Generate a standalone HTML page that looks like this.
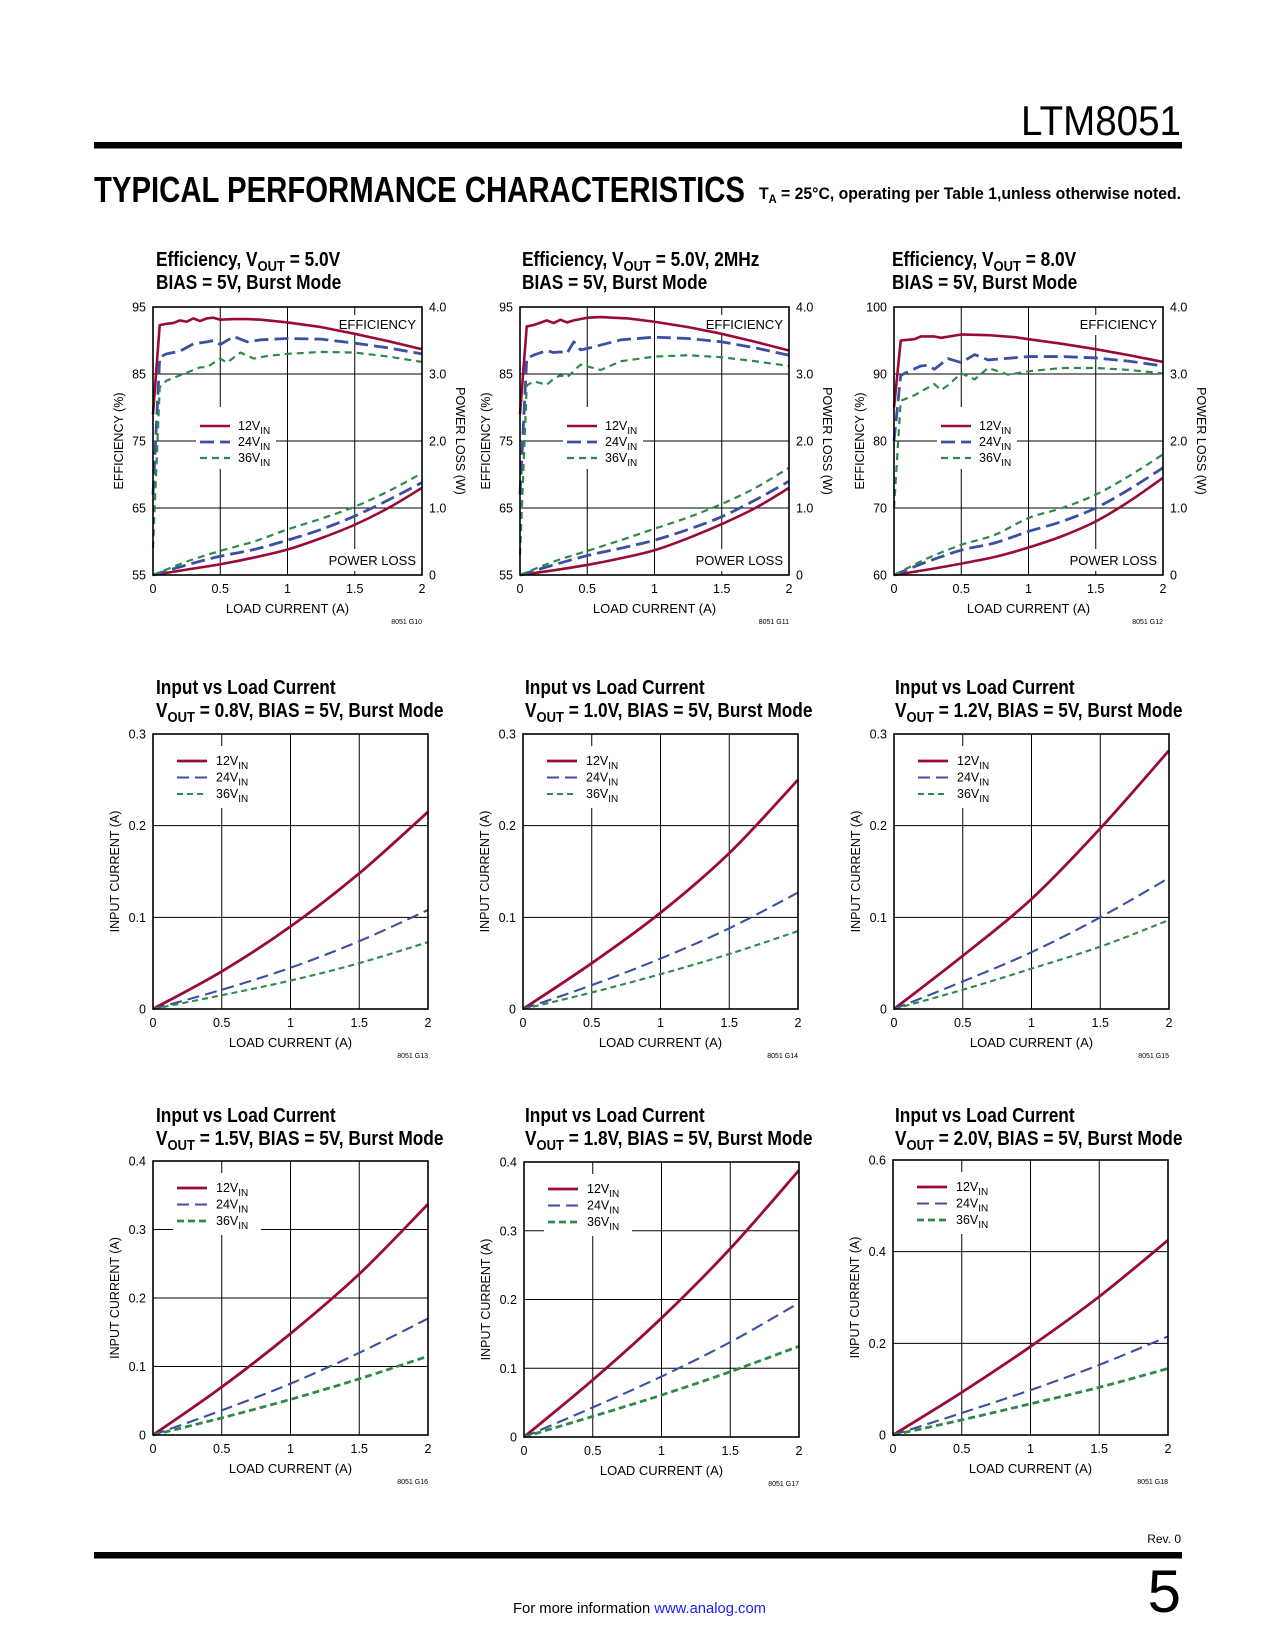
<!DOCTYPE html>
<html><head><meta charset="utf-8"><title>LTM8051 Typical Performance Characteristics</title>
<style>
html,body{margin:0;padding:0;background:#fff;}
svg{display:block;font-family:"Liberation Sans",sans-serif;}
</style></head>
<body>
<svg id="page" width="1275" height="1650" viewBox="0 0 1275 1650" xmlns="http://www.w3.org/2000/svg">
<rect width="1275" height="1650" fill="#fff"/>
<text x="1181" y="135" text-anchor="end" font-size="42" textLength="160" lengthAdjust="spacingAndGlyphs">LTM8051</text>
<rect x="94" y="142" width="1088" height="6.5" fill="#000"/>
<text x="94" y="202" font-size="36" font-weight="bold" textLength="651" lengthAdjust="spacingAndGlyphs">TYPICAL PERFORMANCE CHARACTERISTICS</text>
<text x="759" y="199" font-size="17" font-weight="bold" textLength="422" lengthAdjust="spacingAndGlyphs">T<tspan font-size="12" dy="4">A</tspan><tspan dy="-4"> = 25°C, operating per Table 1,unless otherwise noted.</tspan></text>
<text x="1181" y="1543" text-anchor="end" font-size="12">Rev. 0</text>
<rect x="94" y="1552" width="1088" height="6.5" fill="#000"/>
<text x="1181" y="1612" text-anchor="end" font-size="60">5</text>
<text x="513" y="1613" font-size="15" textLength="253" lengthAdjust="spacingAndGlyphs">For more information <tspan fill="#1a1aff">www.analog.com</tspan></text>
<g id="charts"></g>
</svg>
<script>
// ---------- data ----------
const loadTicks = [0, 0.5, 1, 1.5, 2];
const loadTickLabels = ["0", "0.5", "1", "1.5", "2"];
const lossX = [0, 0.25, 0.5, 0.75, 1, 1.25, 1.5, 1.75, 2];
const lossTicks = ["0", "1.0", "2.0", "3.0", "4.0"];

// Chart G10
const g10x12 = [0,0.05,0.1,0.15,0.2,0.25,0.3,0.35,0.4,0.45,0.5,0.6,0.7,0.8,1,1.25,1.5,1.75,2];
const g10e12 = [79,92.3,92.5,92.6,93,92.8,93.3,92.9,93.3,93.4,93.1,93.2,93.2,93.1,92.7,92,91,89.9,88.7];
const g10x24 = [0,0.05,0.1,0.2,0.3,0.4,0.45,0.5,0.6,0.7,0.8,1,1.25,1.5,1.75,2];
const g10e24 = [67,87.5,88,88.4,89.5,89.8,90,89.4,90.6,89.8,90.1,90.3,90.2,89.6,88.9,88];
const g10x36 = [0,0.05,0.1,0.2,0.3,0.35,0.4,0.5,0.55,0.65,0.75,0.85,1,1.25,1.5,1.75,2];
const g10e36 = [59,83,84,84.8,85.6,86,86,87.3,86.7,88.2,87.3,87.7,88,88.3,88.2,87.6,86.8];
const g10p12 = [0,0.08,0.16,0.26,0.38,0.55,0.75,1.0,1.3];
const g10p24 = [0,0.15,0.28,0.38,0.52,0.68,0.88,1.12,1.38];
const g10p36 = [0,0.2,0.36,0.5,0.68,0.84,1.02,1.25,1.52];
const g10yTicks = [55, 65, 75, 85, 95];

// Chart G11
const g11x12 = [0,0.05,0.1,0.2,0.25,0.3,0.35,0.4,0.5,0.6,0.8,1,1.25,1.5,1.75,2];
const g11e12 = [79,92.1,92.3,93,92.6,93.1,92.7,93,93.4,93.5,93.3,92.8,92,91,89.8,88.5];
const g11x24 = [0,0.05,0.1,0.2,0.25,0.3,0.35,0.4,0.45,0.5,0.75,1,1.25,1.5,1.75,2];
const g11e24 = [67,87.3,87.8,88.5,88.2,88.3,88.1,89.8,88.6,88.8,90.1,90.5,90.3,89.8,88.9,87.8];
const g11x36 = [0,0.05,0.1,0.2,0.25,0.3,0.35,0.45,0.6,0.75,1,1.25,1.5,1.75,2];
const g11e36 = [58,83.3,83.9,83.4,84.3,84.8,84.5,86.4,85.6,86.9,87.6,87.8,87.5,86.9,86.2];
const g11p12 = [0,0.07,0.15,0.25,0.37,0.55,0.76,1.0,1.3];
const g11p24 = [0,0.15,0.29,0.4,0.52,0.68,0.87,1.12,1.4];
const g11p36 = [0,0.2,0.36,0.52,0.69,0.86,1.06,1.3,1.6];
const g11yTicks = [55, 65, 75, 85, 95];

// Chart G12
const g12x12 = [0,0.05,0.1,0.15,0.2,0.3,0.35,0.5,0.7,0.9,1,1.25,1.5,1.75,2];
const g12e12 = [85,95,95.1,95.2,95.6,95.6,95.4,95.9,95.8,95.5,95.2,94.5,93.7,92.8,91.8];
const g12x24 = [0,0.05,0.1,0.2,0.25,0.3,0.4,0.5,0.6,0.7,1,1.25,1.5,1.75,2];
const g12e24 = [80,89.8,90.3,91.2,91.3,90.7,92.3,91.7,92.9,92.1,92.6,92.6,92.4,91.9,91.2];
const g12x36 = [0,0.05,0.15,0.3,0.35,0.4,0.5,0.6,0.7,0.85,1,1.25,1.5,1.75,2];
const g12e36 = [70,86,86.8,88.5,87.6,88.3,90.1,89.2,90.9,89.9,90.4,90.9,90.9,90.6,90.1];
const g12p12 = [0,0.08,0.17,0.27,0.41,0.58,0.8,1.1,1.45];
const g12p24 = [0,0.2,0.37,0.48,0.65,0.8,1.0,1.28,1.6];
const g12p36 = [0,0.25,0.45,0.6,0.85,1.0,1.2,1.48,1.8];
const g12yTicks = [60, 70, 80, 90, 100];

// Input current charts
const icX = [0, 0.5, 1, 1.5, 2];
const g13i12 = [0,0.041,0.09,0.148,0.215];
const g13i24 = [0,0.021,0.045,0.074,0.108];
const g13i36 = [0,0.015,0.031,0.05,0.073];
const g14i12 = [0,0.05,0.105,0.17,0.25];
const g14i24 = [0,0.026,0.055,0.088,0.127];
const g14i36 = [0,0.018,0.038,0.06,0.085];
const g15i12 = [0,0.058,0.12,0.197,0.282];
const g15i24 = [0,0.03,0.062,0.1,0.143];
const g15i36 = [0,0.021,0.044,0.068,0.097];
const g16i12 = [0,0.07,0.148,0.235,0.337];
const g16i24 = [0,0.036,0.075,0.12,0.17];
const g16i36 = [0,0.025,0.052,0.082,0.115];
const g17i12 = [0,0.083,0.173,0.274,0.388];
const g17i24 = [0,0.043,0.088,0.138,0.195];
const g17i36 = [0,0.03,0.061,0.095,0.132];
const g18i12 = [0,0.093,0.193,0.302,0.425];
const g18i24 = [0,0.048,0.098,0.153,0.215];
const g18i36 = [0,0.033,0.068,0.104,0.145];
const ic03Ticks = ["0","0.1","0.2","0.3"];
const ic04Ticks = ["0","0.1","0.2","0.3","0.4"];
const ic06Ticks = ["0","0.2","0.4","0.6"];

// ---------- drawing ----------
const NS = "http://www.w3.org/2000/svg";
const root = document.getElementById("charts");
const C12 = "#9a0a36", C24 = "#3b4fa3", C36 = "#2f8a4a";
function mk(tag, attrs, parent) {
  const el = document.createElementNS(NS, tag);
  for (const k in attrs) el.setAttribute(k, attrs[k]);
  (parent || root).appendChild(el);
  return el;
}
function scaler(d0, d1, p0, p1) { return v => p0 + (v - d0) / (d1 - d0) * (p1 - p0); }
function pathFrom(xs, ys, sx, sy) {
  return xs.map((x, i) => (i ? "L" : "M") + sx(x).toFixed(2) + "," + sy(ys[i]).toFixed(2)).join(" ");
}
function smoothFrom(xs, ys, sx, sy) {
  const P = xs.map((x, i) => [sx(x), sy(ys[i])]);
  let d = "M" + P[0][0].toFixed(2) + "," + P[0][1].toFixed(2);
  for (let i = 0; i < P.length - 1; i++) {
    const p0 = P[i - 1] || P[i], p1 = P[i], p2 = P[i + 1], p3 = P[i + 2] || P[i + 1];
    const c1 = [p1[0] + (p2[0] - p0[0]) / 6, p1[1] + (p2[1] - p0[1]) / 6];
    const c2 = [p2[0] - (p3[0] - p1[0]) / 6, p2[1] - (p3[1] - p1[1]) / 6];
    d += ` C${c1[0].toFixed(2)},${c1[1].toFixed(2)} ${c2[0].toFixed(2)},${c2[1].toFixed(2)} ${p2[0].toFixed(2)},${p2[1].toFixed(2)}`;
  }
  return d;
}
function vinLabel(g, x, y, num) {
  const t = mk("text", {x: x, y: y, "font-size": 12.5}, g);
  
  
  t.innerHTML = num + 'V<tspan font-size="10" dy="4">IN</tspan>';
}
function title2(g, x, y1, l1, l2) {
  const a = mk("text", {transform: `translate(${x},${y1}) scale(0.865,1)`, "font-size": 20, "font-weight": "bold"}, g);
  
  
  a.innerHTML = l1;
  const b = mk("text", {transform: `translate(${x},${y1 + 23}) scale(0.865,1)`, "font-size": 20, "font-weight": "bold"}, g);
  
  
  b.innerHTML = l2;
}
const VOUT = 'V<tspan font-size="15" dy="5">OUT</tspan><tspan dy="-5">';

function frame(g, L, R, T, B, yTickVals, yTickLabels, y0, y1) {
  const sx = scaler(0, 2, L, R), sy = scaler(y0, y1, B, T);
  loadTicks.forEach((v, i) => {
    if (i > 0 && i < loadTicks.length - 1) {
      const gl = mk("line", {x1: sx(v), x2: sx(v), y1: T, y2: B, stroke: "#000", "stroke-width": 1}, g);
      
      
    }
    const tl = mk("text", {x: sx(v), y: B + 18, "font-size": 12.5, "text-anchor": "middle"}, g);
    
    
    tl.textContent = loadTickLabels[i];
  });
  yTickVals.forEach((v, i) => {
    if (i > 0 && i < yTickVals.length - 1) {
      const gl = mk("line", {x1: L, x2: R, y1: sy(v), y2: sy(v), stroke: "#000", "stroke-width": 1}, g);
      
      
    }
    const tl = mk("text", {x: L - 7, y: sy(v) + 4.5, "font-size": 12.5, "text-anchor": "end"}, g);
    
    
    tl.textContent = yTickLabels[i];
  });
  const xt = mk("text", {x: (L + R) / 2, y: B + 38, "font-size": 13, "text-anchor": "middle"}, g);
  
  
  xt.textContent = "LOAD CURRENT (A)";
  return {sx, sy};
}
function border(g, L, R, T, B) {
  const r = mk("rect", {x: L, y: T, width: R - L, height: B - T, fill: "none", stroke: "#000", "stroke-width": 1.6}, g);
  
  
}
function code(g, R, B, txt) {
  const c = mk("text", {x: R, y: B + 49, "font-size": 7, "text-anchor": "end"}, g);
  
  
  c.textContent = txt;
}

function effChart(cfg) {
  const {L, R, T, B, tx, l1, l2, yTicks, codeTxt, d} = cfg;
  const g = mk("g", {});
  
  
  title2(g, tx, 266, l1, l2);
  const {sx, sy} = frame(g, L, R, T, B, yTicks, yTicks.map(String), yTicks[0], yTicks[yTicks.length - 1]);
  const sp = scaler(0, 4, B, T);
  lossTicks.forEach((lab, i) => {
    const t = mk("text", {x: R + 7, y: sp(i) + 4.5, "font-size": 12.5}, g);
    
    
    t.textContent = lab;
  });
  const yt = mk("text", {transform: `translate(${L - 30},${(T + B) / 2}) rotate(-90)`, "font-size": 12.5, "text-anchor": "middle"}, g);
  
  
  yt.textContent = "EFFICIENCY (%)";
  const rt = mk("text", {transform: `translate(${R + 34},${(T + B) / 2}) rotate(90)`, "font-size": 12.5, "text-anchor": "middle"}, g);
  
  
  rt.textContent = "POWER LOSS (W)";
  const lb = mk("rect", {x: L + 43, y: T + 100, width: 80, height: 62, fill: "#fff"}, g);
  
  
  const eb = mk("rect", {x: R - 80, y: T + 8, width: 76, height: 20, fill: "#fff"}, g);
  
  
  const pb = mk("rect", {x: R - 88, y: B - 26, width: 84, height: 22, fill: "#fff"}, g);
  
  
  const el = mk("text", {x: R - 6, y: T + 22, "font-size": 13, "text-anchor": "end"}, g);
  
  
  el.textContent = "EFFICIENCY";
  const pl = mk("text", {x: R - 6, y: B - 10, "font-size": 13, "text-anchor": "end"}, g);
  
  
  pl.textContent = "POWER LOSS";
  const styles = [[C12, "", 2.6], [C24, "14,6", 2.8], [C36, "7,5", 2.2]];
  const effs = [[d.x12, d.e12], [d.x24, d.e24], [d.x36, d.e36]];
  const losses = [d.p12, d.p24, d.p36];
  const names = ["12vin", "24vin", "36vin"];
  styles.forEach((s, i) => {
    const e = mk("path", {d: pathFrom(effs[i][0], effs[i][1], sx, sy), fill: "none", stroke: s[0], "stroke-width": s[2], "stroke-dasharray": s[1], "stroke-linejoin": "round"}, g);
    
    
    const p = mk("path", {d: smoothFrom(lossX, losses[i], sx, sp), fill: "none", stroke: s[0], "stroke-width": s[2], "stroke-dasharray": s[1], "stroke-linejoin": "round"}, g);
    
    
    const ly = T + 119 + i * 16;
    const ll = mk("line", {x1: L + 47, x2: L + 77, y1: ly, y2: ly, stroke: s[0], "stroke-width": s[2], "stroke-dasharray": s[1]}, g);
    
    
    vinLabel(g, L + 85, ly + 4, ["12", "24", "36"][i]);
  });
  border(g, L, R, T, B);
  code(g, R, B, codeTxt);
}

function icChart(cfg) {
  const {L, R, T, B, tx, ty, vo, ymax, yLabels, codeTxt, s12, s24, s36, thick36} = cfg;
  const g = mk("g", {});
  
  
  title2(g, tx, ty, "Input vs Load Current", VOUT + " = " + vo + ", BIAS = 5V, Burst Mode</tspan>");
  const vals = yLabels.map(Number);
  const {sx, sy} = frame(g, L, R, T, B, vals, yLabels, 0, ymax);
  const yt = mk("text", {transform: `translate(${L - 34},${(T + B) / 2}) rotate(-90)`, "font-size": 12.5, "text-anchor": "middle"}, g);
  
  
  yt.textContent = "INPUT CURRENT (A)";
  const lb = mk("rect", {x: L + 20, y: T + 12, width: 88, height: 62, fill: "#fff"}, g);
  
  
  const styles = [[C12, "", 2.8], [C24, "12,6", 2.1], [C36, thick36 ? "7,4" : "6,4", thick36 ? 2.8 : 2.1]];
  const series = [s12, s24, s36];
  const names = ["12vin", "24vin", "36vin"];
  styles.forEach((s, i) => {
    const p = mk("path", {d: smoothFrom(icX, series[i], sx, sy), fill: "none", stroke: s[0], "stroke-width": s[2], "stroke-dasharray": s[1]}, g);
    
    
    const ly = T + 27 + i * 16.5;
    const ll = mk("line", {x1: L + 24, x2: L + 54, y1: ly, y2: ly, stroke: s[0], "stroke-width": s[2], "stroke-dasharray": s[1]}, g);
    
    
    vinLabel(g, L + 63, ly + 4, ["12", "24", "36"][i]);
  });
  border(g, L, R, T, B);
  code(g, R, B, codeTxt);
}

effChart({L:153, R:422, T:307, B:575, tx:156, l1:"Efficiency, " + VOUT + " = 5.0V</tspan>", l2:"BIAS = 5V, Burst Mode", yTicks:g10yTicks, codeTxt:"8051 G10",
  d:{x12:g10x12, e12:g10e12, x24:g10x24, e24:g10e24, x36:g10x36, e36:g10e36, p12:g10p12, p24:g10p24, p36:g10p36}});
effChart({L:520, R:789, T:307, B:575, tx:522, l1:"Efficiency, " + VOUT + " = 5.0V, 2MHz</tspan>", l2:"BIAS = 5V, Burst Mode", yTicks:g11yTicks, codeTxt:"8051 G11",
  d:{x12:g11x12, e12:g11e12, x24:g11x24, e24:g11e24, x36:g11x36, e36:g11e36, p12:g11p12, p24:g11p24, p36:g11p36}});
effChart({L:894, R:1163, T:307, B:575, tx:892, l1:"Efficiency, " + VOUT + " = 8.0V</tspan>", l2:"BIAS = 5V, Burst Mode", yTicks:g12yTicks, codeTxt:"8051 G12",
  d:{x12:g12x12, e12:g12e12, x24:g12x24, e24:g12e24, x36:g12x36, e36:g12e36, p12:g12p12, p24:g12p24, p36:g12p36}});

icChart({L:153, R:428, T:734, B:1009, tx:156, ty:694, vo:"0.8V", ymax:0.3, yLabels:ic03Ticks, codeTxt:"8051 G13", s12:g13i12, s24:g13i24, s36:g13i36});
icChart({L:523, R:798, T:734, B:1009, tx:525, ty:694, vo:"1.0V", ymax:0.3, yLabels:ic03Ticks, codeTxt:"8051 G14", s12:g14i12, s24:g14i24, s36:g14i36});
icChart({L:894, R:1169, T:734, B:1009, tx:895, ty:694, vo:"1.2V", ymax:0.3, yLabels:ic03Ticks, codeTxt:"8051 G15", s12:g15i12, s24:g15i24, s36:g15i36});
icChart({L:153, R:428, T:1161, B:1435, tx:156, ty:1122, vo:"1.5V", ymax:0.4, yLabels:ic04Ticks, codeTxt:"8051 G16", s12:g16i12, s24:g16i24, s36:g16i36, thick36:true});
icChart({L:524, R:799, T:1162, B:1437, tx:525, ty:1122, vo:"1.8V", ymax:0.4, yLabels:ic04Ticks, codeTxt:"8051 G17", s12:g17i12, s24:g17i24, s36:g17i36, thick36:true});
icChart({L:893, R:1168, T:1160, B:1435, tx:895, ty:1122, vo:"2.0V", ymax:0.6, yLabels:ic06Ticks, codeTxt:"8051 G18", s12:g18i12, s24:g18i24, s36:g18i36, thick36:true});
</script>
</body></html>
